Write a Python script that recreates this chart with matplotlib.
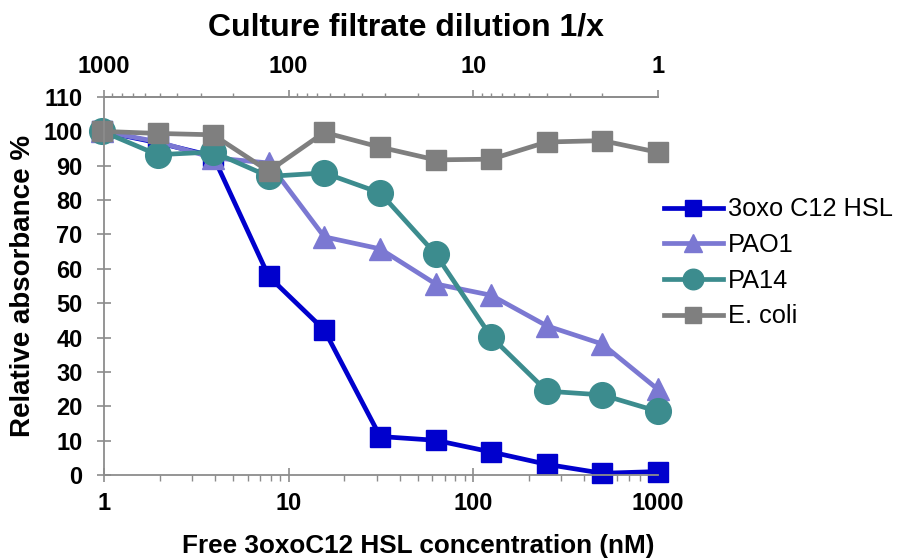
import matplotlib
matplotlib.use("Agg")
import matplotlib.pyplot as plt
from matplotlib.ticker import LogLocator, FixedLocator, FixedFormatter, NullFormatter

plt.rcParams["font.family"] = ["Liberation Sans", "DejaVu Sans"]

# Concentrations (nM) of free 3oxoC12 HSL, two-fold dilution series
conc = [0.98, 1.95, 3.9, 7.8, 15.6, 31.3, 62.5, 125, 250, 500, 1000]

# Relative absorbance (%)
hsl = [100, 96.7, 92.8, 57.8, 42.2, 11.2, 10.1, 6.7, 3.1, 0.5, 1.0]
pao1 = [100, 97.0, 92.3, 90.8, 69.3, 65.8, 55.6, 52.3, 43.4, 38.1, 24.9]
pa14 = [100, 93.2, 94.0, 86.9, 87.9, 82.1, 64.3, 40.2, 24.4, 23.3, 18.5]
ecoli = [100, 99.4, 99.0, 88.4, 99.7, 95.4, 91.7, 91.9, 96.9, 97.3, 93.9]

series_names = ["3oxo C12 HSL", "PAO1", "PA14", "E. coli"]
colours = ["#0000CD", "#7B78D2", "#3C8C8E", "#7F7F7F"]
markers = ["s", "^", "o", "s"]
msizes = [14, 16.5, 18.5, 14]

yticks = list(range(0, 111, 10))
top_ticks = [1000, 100, 10, 1]
axis_grey = "#8C8C8C"

fig = plt.figure(figsize=(8.97, 5.6), dpi=100)
ax = fig.add_axes([0.1159, 0.1518, 0.6176, 0.675])

for vals, name, c, m, ms in zip([hsl, pao1, pa14, ecoli], series_names, colours, markers, msizes):
    ax.plot(conc, vals, color=c, marker=m, markersize=ms, linewidth=3.4,
            label=name, clip_on=False)

ax.set_xscale("log")
ax.set_xlim(1, 1000)
ax.set_ylim(0, 110)
ax.set_yticks(yticks)

ax.xaxis.set_major_locator(FixedLocator([1, 10, 100, 1000]))
ax.xaxis.set_major_formatter(FixedFormatter(["1", "10", "100", "1000"]))
ax.xaxis.set_minor_locator(LogLocator(base=10, subs=range(2, 10)))
ax.xaxis.set_minor_formatter(NullFormatter())

ax.spines["right"].set_visible(False)
for s in ["left", "bottom", "top"]:
    ax.spines[s].set_color(axis_grey)
    ax.spines[s].set_linewidth(1.3)

ax.tick_params(axis="y", which="major", direction="inout", length=10, width=1.2,
               color=axis_grey, labelsize=17, pad=10.5)
ax.tick_params(axis="x", which="major", direction="inout", length=10, width=1.2,
               color=axis_grey, labelsize=17, pad=7)
ax.tick_params(axis="x", which="minor", direction="out", length=4, width=1,
               color=axis_grey)
for lab in ax.get_xticklabels() + ax.get_yticklabels():
    lab.set_fontweight("bold")

# Top axis: culture filtrate dilution, reversed
top = ax.secondary_xaxis("top", functions=(lambda x: 1000 / x, lambda x: 1000 / x))
top.xaxis.set_major_locator(FixedLocator(top_ticks))
top.xaxis.set_major_formatter(FixedFormatter([str(t) for t in top_ticks]))
top.xaxis.set_minor_locator(LogLocator(base=10, subs=range(2, 10)))
top.xaxis.set_minor_formatter(NullFormatter())
top.spines["top"].set_color(axis_grey)
top.spines["top"].set_linewidth(1.3)
top.tick_params(which="major", direction="out", length=5, width=1.2,
                color=axis_grey, labelsize=17, pad=9)
top.tick_params(which="minor", direction="out", length=3, width=1, color=axis_grey)
for lab in top.get_xticklabels():
    lab.set_fontweight("bold")

fig.text(0.452, 0.936, "Culture filtrate dilution 1/x", fontsize=23,
         fontweight="bold", ha="center", va="baseline")

ax.set_xlabel("Free 3oxoC12 HSL concentration (nM)", fontsize=18.8,
              fontweight="bold", labelpad=14)
ax.xaxis.set_label_coords(0.568, -0.155)
ax.set_ylabel("Relative absorbance %", fontsize=20, fontweight="bold", labelpad=5)

ax.legend(loc="center left", bbox_to_anchor=(1.011, 0.561), frameon=False,
          fontsize=18.3, handlelength=2.3, handletextpad=0.2, labelspacing=0.46,
          markerscale=0.8, borderaxespad=0, borderpad=0)

fig.savefig("out.png", dpi=100)
